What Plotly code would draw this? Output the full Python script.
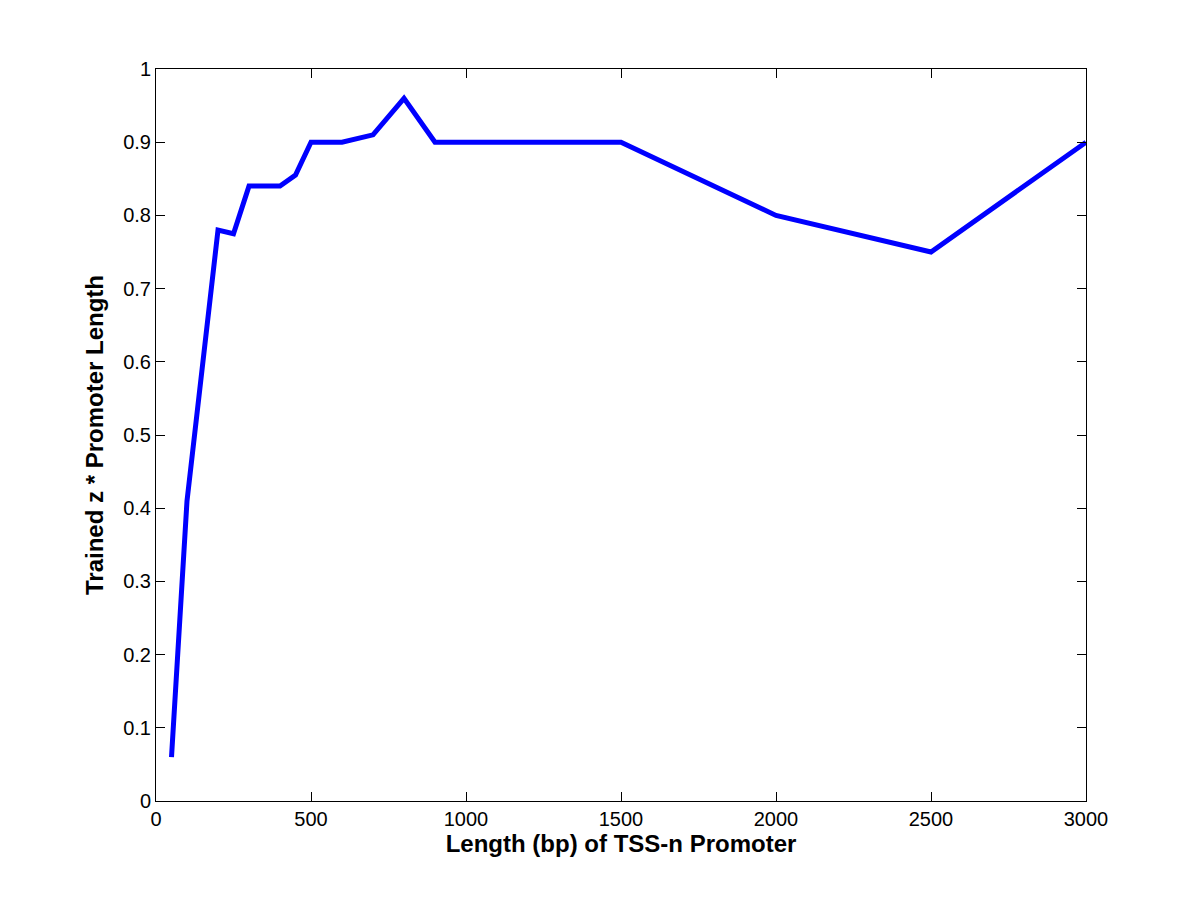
import plotly.graph_objects as go

# promoter length (bp) vs trained z * promoter length
lengths = [50, 100, 200, 250, 300, 400, 450, 500, 600, 700, 800, 900, 1000, 1500, 2000, 2500, 3000]
z_scores = [0.06, 0.41, 0.78, 0.775, 0.84, 0.84, 0.855, 0.90, 0.90, 0.91, 0.96, 0.90, 0.90, 0.90, 0.80, 0.75, 0.90]

x_ticks = [0, 500, 1000, 1500, 2000, 2500, 3000]
y_ticks = [0, 0.1, 0.2, 0.3, 0.4, 0.5, 0.6, 0.7, 0.8, 0.9, 1]
y_labels = ["0", "0.1", "0.2", "0.3", "0.4", "0.5", "0.6", "0.7", "0.8", "0.9", "1"]

fig = go.Figure()
fig.add_trace(go.Scatter(x=lengths, y=z_scores, mode="lines",
                         line=dict(color="#0000ff", width=5), showlegend=False))

axis_style = dict(showline=True, linecolor="black", linewidth=1, mirror="ticks",
                  ticks="inside", ticklen=9, tickcolor="black", showgrid=False,
                  zeroline=False, tickfont=dict(family="Arial, Liberation Sans", size=20, color="black"))

fig.update_xaxes(range=[0, 3000], tickvals=x_ticks, **axis_style,
                 title=dict(text="<b>Length (bp) of TSS-n Promoter</b>", standoff=5,
                            font=dict(family="Arial, Liberation Sans", size=24, color="black")))
fig.update_yaxes(range=[0, 1], tickvals=y_ticks, ticktext=y_labels, **axis_style,
                 title=dict(text="<b>Trained z * Promoter Length</b>", standoff=12,
                            font=dict(family="Arial, Liberation Sans", size=24, color="black")))

fig.update_layout(width=1200, height=900, plot_bgcolor="white", paper_bgcolor="white",
                  margin=dict(l=148, r=122, t=61, b=107))

fig.write_html("out.html")
